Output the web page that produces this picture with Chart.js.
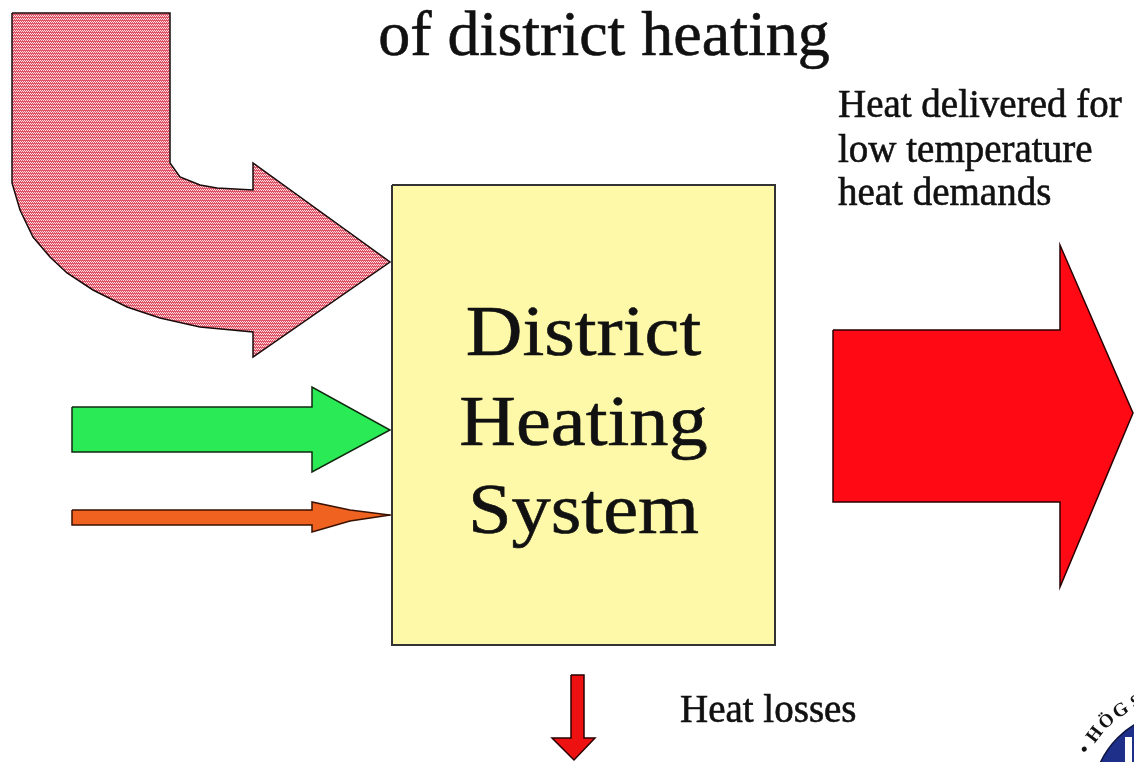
<!DOCTYPE html>
<html>
<head>
<meta charset="utf-8">
<script src="https://cdn.jsdelivr.net/npm/chart.js@4.4.1/dist/chart.umd.min.js"></script>
<style>
  html, body { margin: 0; padding: 0; background: #fff; overflow: hidden; }
  #wrap { width: 1134px; height: 762px; }
</style>
</head>
<body>
<div id="wrap"><canvas id="diagram" width="1134" height="762"></canvas></div>
<script>
// Outlines, in diagram units (x to the right, y downwards)
const fuelArrow = [[12,13],[170,13],[170,163],[180,177],[200,185],[217,188],[253,190],[253,163],[390,262],
                   [253,357],[253,332],[200,327],[160,318],[127,307],[93,290],[67,273],[50,257],[33,237],
                   [20,210],[12,183],[12,13]];
const greenArrow = [[72,407],[312,407],[312,387],[390,430],[312,472],[312,452],[72,452],[72,407]];
const orangeArrow = [[72,510],[312,510],[312,502],[350,510],[390,515],[350,521],[312,532],[312,525],[72,525],[72,510]];
const systemBox = [[392,185],[775,185],[775,645],[392,645],[392,185]];
const deliveredArrow = [[833,330],[1060,330],[1060,245],[1133,413],[1060,587],[1060,502],[833,502],[833,330]];
const lossArrow = [[571,675],[584,675],[584,738],[595,738],[574,760],[552,738],[571,738],[571,675]];

// Texts
const titleText = 'of district heating';
const boxLines = ['District', 'Heating', 'System'];
const deliveredLines = ['Heat delivered for', 'low temperature', 'heat demands'];
const lossText = 'Heat losses';
const logoLetters = ['•', 'H', 'Ö', 'G', 'S'];

const toPoints = arr => arr.map(p => ({ x: p[0], y: p[1] }));

// dotted zigzag stripes for the curved inflow arrow
function makeStripes() {
    const c = document.createElement('canvas');
    c.width = 6;
    c.height = 3;
    const g = c.getContext('2d');
    g.fillStyle = '#de5366';
    g.fillRect(0, 0, 6, 3);
    g.fillStyle = '#fde0e3';
    [[0,0],[2,0],[4,0],[1,1],[3,1],[5,1]].forEach(p => g.fillRect(p[0], p[1], 1, 1));
    return g.createPattern(c, 'repeat');
}

function shape(label, arr, fillColor, borderColor, borderWidth) {
    return {
        label: label,
        data: toPoints(arr),
        backgroundColor: fillColor,
        borderColor: borderColor,
        borderWidth: borderWidth,
        fill: 'shape',
        tension: 0,
        pointRadius: 0,
        borderJoinStyle: 'miter'
    };
}

const diagramText = {
    id: 'diagramText',
    beforeDatasetsDraw(chart) {
        // partial logo in the bottom right corner
        const { ctx, scales: { x, y } } = chart;
        const cx = x.getPixelForValue(1180), cy = y.getPixelForValue(800);
        ctx.save();
        ctx.beginPath();
        ctx.arc(cx, cy, 88, 0, Math.PI * 2);
        ctx.fillStyle = '#1d2f88';
        ctx.fill();
        ctx.lineWidth = 1.5;
        ctx.strokeStyle = '#0c1440';
        ctx.stroke();
        ctx.fillStyle = '#ffffff';
        ctx.fillRect(x.getPixelForValue(1125), y.getPixelForValue(737), 7, 30);
        ctx.fillStyle = '#111';
        ctx.font = 'bold 19px "Liberation Serif"';
        ctx.textAlign = 'center';
        ctx.textBaseline = 'middle';
        logoLetters.forEach((ch, i) => {
            const a = (-152 + i * 9.5) * Math.PI / 180;
            ctx.save();
            ctx.translate(cx + 107 * Math.cos(a), cy + 107 * Math.sin(a));
            ctx.rotate(a + Math.PI / 2);
            ctx.fillText(ch, 0, 0);
            ctx.restore();
        });
        ctx.restore();
    },
    afterDatasetsDraw(chart) {
        const { ctx, scales: { x, y } } = chart;
        const put = (str, vx, vy, size, align, sx) => {
            ctx.save();
            ctx.translate(x.getPixelForValue(vx), y.getPixelForValue(vy));
            ctx.scale(sx || 1, 1);
            ctx.font = size + 'px "Liberation Serif", "Times New Roman", serif';
            ctx.textAlign = align;
            ctx.textBaseline = 'alphabetic';
            ctx.fillStyle = '#111';
            ctx.strokeStyle = '#111';
            ctx.lineWidth = 0.6;
            ctx.fillText(str, 0, 0);
            ctx.strokeText(str, 0, 0);
            ctx.restore();
        };
        put(titleText, 604, 55, 64, 'center');
        boxLines.forEach((s, i) => put(s, 583.5, [355, 445, 533][i], 72, 'center', 1.09));
        deliveredLines.forEach((s, i) => put(s, 838, [117, 162, 205][i], 39, 'left'));
        put(lossText, 680, 722, 39, 'left');
    }
};

new Chart(document.getElementById('diagram'), {
    type: 'line',
    data: {
        datasets: [
            shape('Heat losses', lossArrow, '#ee1111', '#2a0000', 1.5),
            shape('Heat delivered', deliveredArrow, '#ff0a14', '#2a0000', 1.5),
            shape('District Heating System', systemBox, '#fdf9a9', '#333333', 2),
            shape('Orange inflow', orangeArrow, '#f0621f', '#3a1000', 1.5),
            shape('Green inflow', greenArrow, '#2aeb55', '#102a10', 1.5),
            shape('Curved inflow', fuelArrow, makeStripes(), '#1a0a0a', 1.5)
        ]
    },
    options: {
        responsive: false,
        animation: false,
        layout: { padding: 0 },
        plugins: {
            legend: { display: false },
            tooltip: { enabled: false }
        },
        scales: {
            x: { type: 'linear', min: 0, max: 1134, display: false },
            y: { type: 'linear', min: 0, max: 762, reverse: true, display: false }
        }
    },
    plugins: [diagramText]
});
</script>
</body>
</html>
